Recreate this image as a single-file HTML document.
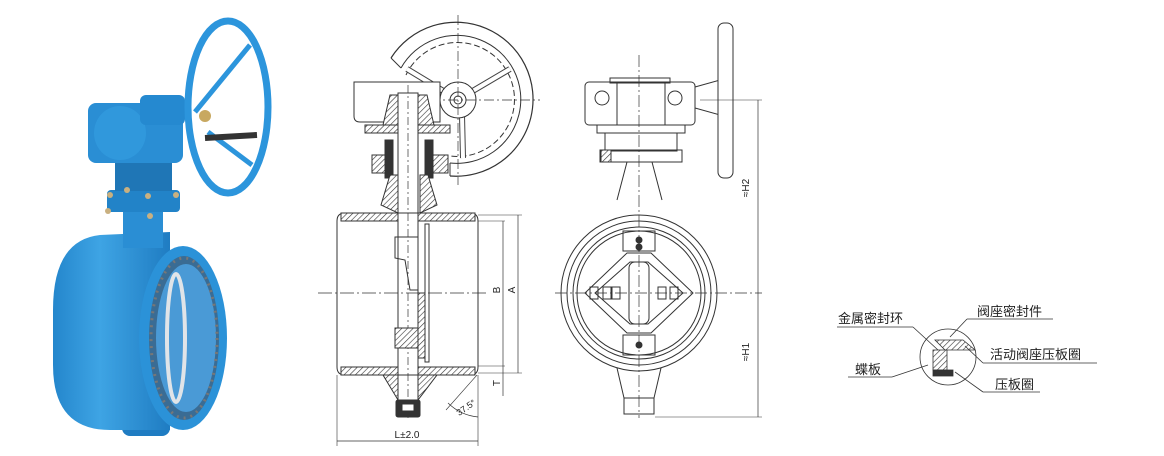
<!DOCTYPE html>
<html><head><meta charset="utf-8">
<style>
html,body{margin:0;padding:0;background:#fff;width:1164px;height:456px;overflow:hidden}
svg{display:block}
text{font-family:"Liberation Sans","Noto Sans CJK SC",sans-serif;fill:#222}
</style></head><body>
<svg width="1164" height="456" viewBox="0 0 1164 456" xmlns="http://www.w3.org/2000/svg">
<defs>
<pattern id="h" width="4" height="4" patternUnits="userSpaceOnUse" patternTransform="rotate(45)">
<rect width="4" height="4" fill="#fff"/><line x1="0" y1="0" x2="0" y2="4" stroke="#333" stroke-width="1.2"/></pattern>
<linearGradient id="bl" x1="0" x2="1"><stop offset="0" stop-color="#2486cc"/><stop offset="0.4" stop-color="#3ea4e4"/><stop offset="1" stop-color="#1f7cc2"/></linearGradient>
</defs>

<!-- PHOTO -->
<g>
<rect x="122" y="408" width="48" height="28" rx="8" fill="#1f7cc2"/>
<path d="M53 310 Q53 240 100 235 L170 232 L170 430 L110 430 Q53 430 53 365 Z" fill="url(#bl)"/>
<ellipse cx="183" cy="338" rx="44" ry="92" fill="#2b92d8"/>
<ellipse cx="184" cy="338" rx="35" ry="82" fill="#3a6c94"/>
<ellipse cx="186" cy="338" rx="30" ry="74" fill="#4a9ad6"/>
<ellipse cx="176" cy="338" rx="9" ry="64" fill="none" stroke="#e0e4e8" stroke-width="4"/>
<ellipse cx="184" cy="338" rx="33" ry="80" fill="none" stroke="#777" stroke-width="3" stroke-dasharray="2 5"/>
<rect x="123" y="212" width="40" height="36" fill="#2a8ed4"/>
<rect x="107" y="190" width="73" height="22" rx="4" fill="#2283c8"/>
<rect x="115" y="163" width="57" height="28" fill="#1f76b6"/>
<rect x="88" y="103" width="95" height="60" rx="8" fill="#2a8ed4"/>
<ellipse cx="120" cy="133" rx="26" ry="27" fill="#3098dc"/>
<rect x="140" y="95" width="45" height="30" rx="6" fill="#2589d0"/>
<ellipse cx="228" cy="107" rx="40" ry="86" fill="none" stroke="#2c95dc" stroke-width="7"/>
<line x1="195" y1="112" x2="250" y2="45" stroke="#2c95dc" stroke-width="5"/>
<line x1="208" y1="132" x2="252" y2="165" stroke="#2c95dc" stroke-width="5"/>
<line x1="205" y1="138" x2="257" y2="135" stroke="#333" stroke-width="6"/>
<circle cx="205" cy="116" r="6" fill="#c8a860"/>
<g fill="#c9b080"><circle cx="110" cy="195" r="3"/><circle cx="127" cy="190" r="3"/><circle cx="148" cy="196" r="3"/><circle cx="176" cy="195" r="3"/><circle cx="150" cy="216" r="3"/><circle cx="108" cy="211" r="3"/></g>
</g>

<!-- DRAWING 2 side section -->
<g stroke="#333" fill="none" stroke-width="1">
<path d="M391 58 A77 77 0 1 1 450 176" stroke-width="1.2"/>
<path d="M401 68 A64 64 0 1 1 450 163"/>
<path d="M406 75 A57 57 0 1 1 450 156" stroke-dasharray="6 3"/>
<line x1="391" y1="58" x2="401" y2="68"/>
<line x1="450" y1="176" x2="450" y2="163"/>
<path d="M445 92 L407 69 M462 115 L463 158 M471 92 L510 69" stroke-width="6" stroke="#444"/>
<path d="M445 92 L407 69 M462 115 L463 158 M471 92 L510 69" stroke-width="4" stroke="#fff"/>
<circle cx="458" cy="100" r="18" fill="#fff"/>
<circle cx="458" cy="100" r="8"/><circle cx="458" cy="100" r="4"/>
<line x1="458" y1="15" x2="458" y2="185" stroke-dasharray="10 3 2 3" stroke-width="0.7"/>
<line x1="430" y1="100" x2="540" y2="100" stroke-dasharray="10 3 2 3" stroke-width="0.7"/>
<!-- gearbox -->
<path d="M354 82 L440 82 L440 122 L360 122 Q354 122 354 116 Z" fill="#fff"/>
<path d="M383 125 L390 95 L427 95 L434 125 Z" fill="url(#h)"/>
<rect x="365" y="125" width="85" height="8" fill="url(#h)"/>
<rect x="372" y="155" width="18" height="18" fill="url(#h)"/>
<rect x="430" y="155" width="18" height="18" fill="url(#h)"/>
<rect x="385" y="140" width="8" height="38" fill="#333"/>
<rect x="425" y="140" width="8" height="38" fill="#333"/>
<path d="M381 205 L390 175 L398 175 L398 213 Z M437 205 L428 175 L420 175 L420 213 Z" fill="url(#h)"/>
<!-- stem -->
<rect x="398" y="93" width="20" height="322" fill="#fff"/>
<line x1="408" y1="85" x2="408" y2="420" stroke-dasharray="8 3 2 3" stroke-width="0.7"/>
<!-- body -->
<path d="M337 221 Q337 213 345 213 L470 213 Q478 213 478 221 L478 367 Q478 375 470 375 L345 375 Q337 375 337 367 Z"/>
<rect x="341" y="213" width="57" height="8" fill="url(#h)"/>
<rect x="418" y="213" width="57" height="8" fill="url(#h)"/>
<rect x="341" y="367" width="57" height="8" fill="url(#h)"/>
<rect x="418" y="367" width="57" height="8" fill="url(#h)"/>
<path d="M383 375 L398 400 L398 375 Z M437 375 L418 400 L418 375 Z" fill="url(#h)"/>
<rect x="418" y="293" width="7" height="65" fill="url(#h)"/>
<rect x="425" y="224" width="4" height="138"/>
<path d="M395 237 L418 237 L418 290 L410 290 L405 260 L395 258 Z"/>
<path d="M395 328 L418 328 L418 348 L395 348 Z" fill="url(#h)"/>
<rect x="396" y="400" width="24" height="17" rx="2" fill="#333"/>
<rect x="402" y="404" width="12" height="7" fill="#fff"/>
<line x1="318" y1="293" x2="488" y2="293" stroke-dasharray="14 3 2 3" stroke-width="0.8"/>
<!-- dims -->
<line x1="478" y1="221" x2="505" y2="221" stroke-width="0.6"/>
<line x1="478" y1="215" x2="522" y2="215" stroke-width="0.6"/>
<line x1="478" y1="366" x2="505" y2="366" stroke-width="0.6"/>
<line x1="478" y1="373" x2="522" y2="373" stroke-width="0.6"/>
<line x1="503" y1="221" x2="503" y2="396" stroke-width="0.7"/>
<line x1="518" y1="215" x2="518" y2="373" stroke-width="0.7"/>
<line x1="337" y1="375" x2="337" y2="446" stroke-width="0.6"/>
<line x1="478" y1="375" x2="478" y2="446" stroke-width="0.6"/>
<line x1="337" y1="441" x2="478" y2="441" stroke-width="0.7"/>
<line x1="477" y1="375" x2="446" y2="410" stroke-width="0.6"/>
<path d="M448 403 A50 50 0 0 0 478 417" stroke-width="0.7"/>
</g>
<g font-size="10">
<text x="500" y="296" transform="rotate(-90 497 293)" text-anchor="middle">B</text>
<text x="515" y="296" transform="rotate(-90 512 293)" text-anchor="middle">A</text>
<text x="500" y="389" transform="rotate(-90 497 386)" text-anchor="middle">T</text>
<text x="407" y="438" text-anchor="middle">L±2.0</text>
<text x="455" y="413" transform="rotate(-35 462 408)" font-size="9">37.5°</text>
</g>

<!-- DRAWING 3 front view -->
<g stroke="#333" fill="none" stroke-width="1">
<path d="M695 87 L720 80 L720 115 L695 108 Z" fill="#fff"/>
<rect x="718" y="23" width="15" height="155" rx="6" fill="#fff"/>
<rect x="585" y="82" width="110" height="43" rx="4" fill="#fff"/>
<rect x="610" y="78" width="60" height="5"/>
<line x1="617" y1="82" x2="617" y2="125"/><line x1="665" y1="82" x2="665" y2="125"/>
<circle cx="602" cy="98" r="7"/><circle cx="675" cy="98" r="7"/>
<rect x="597" y="125" width="88" height="8"/>
<rect x="605" y="133" width="72" height="18"/>
<rect x="600" y="150" width="82" height="12"/>
<rect x="601" y="150" width="10" height="12" fill="url(#h)"/>
<path d="M627 162 L617 200 M652 162 L662 200"/>
<circle cx="639" cy="293" r="78" fill="#fff"/>
<circle cx="639" cy="293" r="72"/>
<circle cx="639" cy="293" r="66"/>
<circle cx="639" cy="293" r="62"/>
<path d="M585 293 L627 253 L651 253 L693 293 L651 333 L627 333 Z"/>
<path d="M595 293 L630 262 L648 262 L683 293 L648 324 L630 324 Z"/>
<rect x="629" y="262" width="20" height="62" rx="6"/>
<rect x="623" y="231" width="32" height="20"/>
<rect x="623" y="335" width="32" height="20"/>
<circle cx="639" cy="240" r="3" fill="#333"/><circle cx="639" cy="247" r="3" fill="#333"/><circle cx="639" cy="345" r="3" fill="#333"/>
<rect x="590" y="287" width="8" height="12"/><rect x="603" y="287" width="8" height="12"/><rect x="612" y="287" width="8" height="12"/>
<rect x="658" y="287" width="8" height="12"/><rect x="670" y="287" width="8" height="12"/>
<path d="M617 368 L624 398 L654 398 L661 368"/>
<rect x="624" y="398" width="30" height="16"/>
<line x1="639" y1="55" x2="639" y2="418" stroke-dasharray="12 3 2 3" stroke-width="0.7"/>
<line x1="555" y1="293" x2="762" y2="293" stroke-dasharray="12 3 2 3" stroke-width="0.8"/>
<line x1="700" y1="100" x2="762" y2="100" stroke-width="0.6"/>
<line x1="655" y1="417" x2="762" y2="417" stroke-width="0.6"/>
<line x1="758" y1="100" x2="758" y2="417" stroke-width="0.7"/>
</g>
<g font-size="10">
<text x="749" y="188" transform="rotate(-90 749 188)" text-anchor="middle">≈H2</text>
<text x="749" y="352" transform="rotate(-90 749 352)" text-anchor="middle">≈H1</text>
</g>

<!-- DETAIL LABELS -->
<g stroke="#333" fill="none" stroke-width="0.8">
<circle cx="948" cy="357" r="28" fill="#fff"/>
<path d="M935 340 L963 340 L975 350 L945 350 Z" fill="url(#h)"/>
<rect x="933" y="350" width="14" height="20" fill="url(#h)"/>
<rect x="933" y="370" width="20" height="6" fill="#333"/>
<line x1="837" y1="327" x2="913" y2="327"/><line x1="913" y1="327" x2="938" y2="350"/>
<line x1="967" y1="319" x2="1053" y2="319"/><line x1="967" y1="319" x2="950" y2="337"/>
<line x1="983" y1="363" x2="1097" y2="363"/><line x1="983" y1="363" x2="965" y2="346"/>
<line x1="848" y1="377" x2="892" y2="377"/><line x1="892" y1="377" x2="928" y2="365"/>
<line x1="983" y1="392" x2="1040" y2="392"/><line x1="983" y1="392" x2="955" y2="372"/>
</g>
<g font-size="13">
<text x="838" y="323">金属密封环</text>
<text x="977" y="316">阀座密封件</text>
<text x="990" y="359">活动阀座压板圈</text>
<text x="855" y="374">蝶板</text>
<text x="995" y="389">压板圈</text>
</g>
</svg>
</body></html>
